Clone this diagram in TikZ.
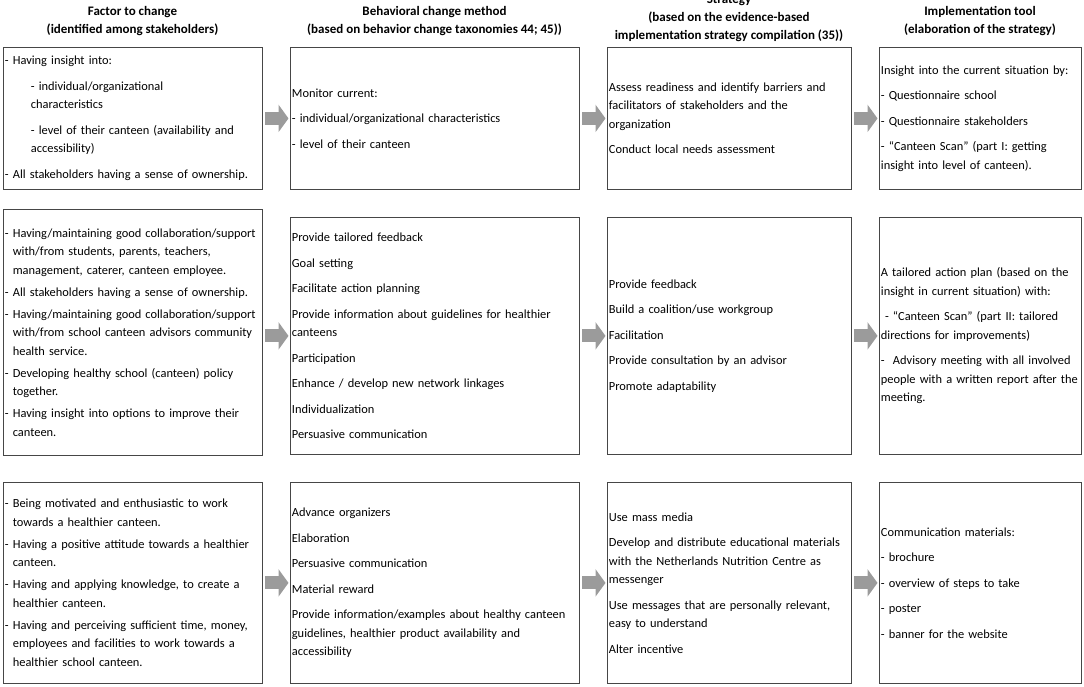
\documentclass[tikz,border=0pt]{standalone}
\usepackage{fontspec}
\setmainfont{Carlito}
\usetikzlibrary{arrows.meta}

\definecolor{boxline}{RGB}{70,70,70}
\definecolor{arrowgray}{RGB}{155,155,155}

\newcommand{\cellfont}{\fontsize{12.4}{18.5}\selectfont}
\newcommand{\hang}{\hphantom{- }}

\tikzset{
    cellbox/.style={draw=boxline, line width=0.8pt, anchor=north west,
        inner xsep=1.5pt, inner ysep=0pt, align=left, font=\cellfont},
    headtext/.style={align=center, font=\fontsize{13}{18}\selectfont\bfseries},
    flowarrow/.style={draw=arrowgray, line width=13pt,
        -{Triangle[length=10pt, width=27pt]}, shorten <=2.5pt, shorten >=1.5pt}
}

\begin{document}
\begin{tikzpicture}[x=1pt, y=-1pt]
    \useasboundingbox (0,0) rectangle (1084,686);

    % Column headers
    \node[headtext] (hfac) at (132.5,21) {Factor to change\\(identified among stakeholders)};
    \node[headtext] (hmeth) at (434.5,21) {Behavioral change method\\(based on behavior change taxonomies 44; 45))};
    \node[headtext] (hstrat) at (729,18) {Strategy\\(based on the evidence-based\\implementation strategy compilation (35))};
    \node[headtext] (htool) at (980,21) {Implementation tool\\(elaboration of the strategy)};

    % First row: insight into the current situation
    \node[cellbox, text width=256pt, minimum height=142pt] (fac1) at (3,47) {%
        - Having insight into:\\[7pt]
        \hspace*{26pt}- individual/organizational\\
        \hspace*{26pt}characteristics\\[7pt]
        \hspace*{26pt}- level of their canteen (availability and\\
        \hspace*{26pt}accessibility)\\[7pt]
        - All stakeholders having a sense of ownership.};
    \node[cellbox, text width=286pt, minimum height=142pt] (meth1) at (290,47) {%
        Monitor current:\\[7pt]
        - individual/organizational characteristics\\[7pt]
        - level of their canteen};
    \node[cellbox, text width=241pt, minimum height=142pt] (strat1) at (607,47) {%
        Assess readiness and identify barriers and\\
        facilitators of stakeholders and the\\
        organization\\[7pt]
        Conduct local needs assessment};
    \node[cellbox, text width=199pt, minimum height=142pt] (tool1) at (879,47) {%
        Insight into the current situation by:\\[7pt]
        - Questionnaire school\\[7pt]
        - Questionnaire stakeholders\\[7pt]
        - “Canteen Scan” (part I: getting\\
        insight into level of canteen).};

    % Second row: tailored action plan
    \node[cellbox, text width=256pt, minimum height=246pt] (fac2) at (3,209) {%
        - Having/maintaining good collaboration/support\\
        \hang with/from students, parents, teachers,\\
        \hang management, caterer, canteen employee.\\[3.5pt]
        - All stakeholders having a sense of ownership.\\[3.5pt]
        - Having/maintaining good collaboration/support\\
        \hang with/from school canteen advisors community\\
        \hang health service.\\[3.5pt]
        - Developing healthy school (canteen) policy\\
        \hang together.\\[3.5pt]
        - Having insight into options to improve their\\
        \hang canteen.};
    \node[cellbox, text width=286pt, minimum height=237pt] (meth2) at (290,217) {%
        Provide tailored feedback\\[7pt]
        Goal setting\\[7pt]
        Facilitate action planning\\[7pt]
        Provide information about guidelines for healthier\\
        canteens\\[7pt]
        Participation\\[7pt]
        Enhance / develop new network linkages\\[7pt]
        Individualization\\[7pt]
        Persuasive communication};
    \node[cellbox, text width=241pt, minimum height=237pt] (strat2) at (607,217) {%
        Provide feedback\\[7pt]
        Build a coalition/use workgroup\\[7pt]
        Facilitation\\[7pt]
        Provide consultation by an advisor\\[7pt]
        Promote adaptability};
    \node[cellbox, text width=199pt, minimum height=237pt] (tool2) at (879,217) {%
        A tailored action plan (based on the\\
        insight in current situation) with:\\[7pt]
        \ - “Canteen Scan” (part II: tailored\\
        directions for improvements)\\[7pt]
        -\ \ Advisory meeting with all involved\\
        people with a written report after the\\
        meeting.};

    % Third row: communication materials
    \node[cellbox, text width=256pt, minimum height=201pt] (fac3) at (3,482) {%
        - Being motivated and enthusiastic to work\\
        \hang towards a healthier canteen.\\[3.5pt]
        - Having a positive attitude towards a healthier\\
        \hang canteen.\\[3.5pt]
        - Having and applying knowledge, to create a\\
        \hang healthier canteen.\\[3.5pt]
        - Having and perceiving sufficient time, money,\\
        \hang employees and facilities to work towards a\\
        \hang healthier school canteen.};
    \node[cellbox, text width=286pt, minimum height=201pt] (meth3) at (290,482) {%
        Advance organizers\\[7pt]
        Elaboration\\[7pt]
        Persuasive communication\\[7pt]
        Material reward\\[7pt]
        Provide information/examples about healthy canteen\\
        guidelines, healthier product availability and\\
        accessibility};
    \node[cellbox, text width=241pt, minimum height=201pt] (strat3) at (607,482) {%
        Use mass media\\[7pt]
        Develop and distribute educational materials\\
        with the Netherlands Nutrition Centre as\\
        messenger\\[7pt]
        Use messages that are personally relevant,\\
        easy to understand\\[7pt]
        Alter incentive};
    \node[cellbox, text width=199pt, minimum height=201pt] (tool3) at (879,482) {%
        Communication materials:\\[7pt]
        - brochure\\[7pt]
        - overview of steps to take\\[7pt]
        - poster\\[7pt]
        - banner for the website};

    % Block arrows between the columns
    \foreach \r in {1,2,3} {
        \draw[flowarrow] (fac\r.east |- meth\r.west) -- (meth\r.west);
        \draw[flowarrow] (meth\r.east) -- (strat\r.west);
        \draw[flowarrow] (strat\r.east) -- (tool\r.west);
    }
\end{tikzpicture}
\end{document}
